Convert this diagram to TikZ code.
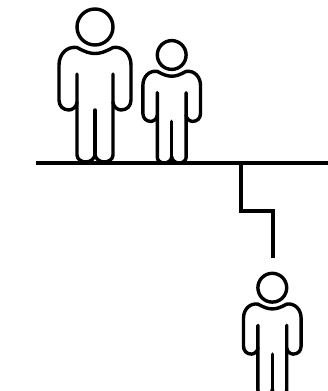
\documentclass[tikz,border=0pt]{standalone}
\usepackage{tikz}
\tikzset{
  figureline/.style={draw=black, line width=3.4pt, line cap=round, line join=round},
  barline/.style={draw=black, line width=4pt},
  pics/person/.style={
    code={
      \draw[figureline] (0,0) circle (18);
      % torso and arms
      \draw[figureline] (18,47) -- (18,75) .. controls (18,80) and (23,83) .. (26,83)
        .. controls (32,83) and (36,79) .. (36,73) -- (36,38)
        .. controls (36,27) and (28,19) .. (18,20.5)
        .. controls (10,25) and (5,26.5) .. (0,26.5)
        .. controls (-5,26.5) and (-10,25) .. (-18,20.5)
        .. controls (-28,19) and (-36,27) .. (-36,38) -- (-36,73)
        .. controls (-36,79) and (-32,83) .. (-26,83)
        .. controls (-23,83) and (-18,80) .. (-18,75) -- (-18,47);
      % legs
      \draw[figureline] (-18,75) -- (-18,128) .. controls (-18,132) and (-14,135) .. (-9,135)
        .. controls (-4,135) and (0,131) .. (0,127) .. controls (0,131) and (4,135) .. (9,135)
        .. controls (14,135) and (18,132) .. (18,128) -- (18,75);
      \draw[figureline] (0,83) -- (0,127);
    }
  }
}

\begin{document}
\begin{tikzpicture}[x=1pt, y=-1pt]
  \path[use as bounding box, clip] (0,0) rectangle (328,391);

  \pic[scale=1] (adult) at (95,27) {person};
  \pic[scale=0.8] (parent) at (171.7,55) {person};
  \pic[scale=0.8] (child) at (272.3,287.7) {person};

  \coordinate (barleft) at (36,163);
  \coordinate (barright) at (328,163);
  \coordinate (junction) at (241,163);
  \coordinate (bend) at (272.5,211);
  \coordinate (drop) at (272.5,258);

  \draw[barline] (barleft) -- (barright);
  \draw[barline] (junction) |- (bend) -- (drop);
\end{tikzpicture}
\end{document}
